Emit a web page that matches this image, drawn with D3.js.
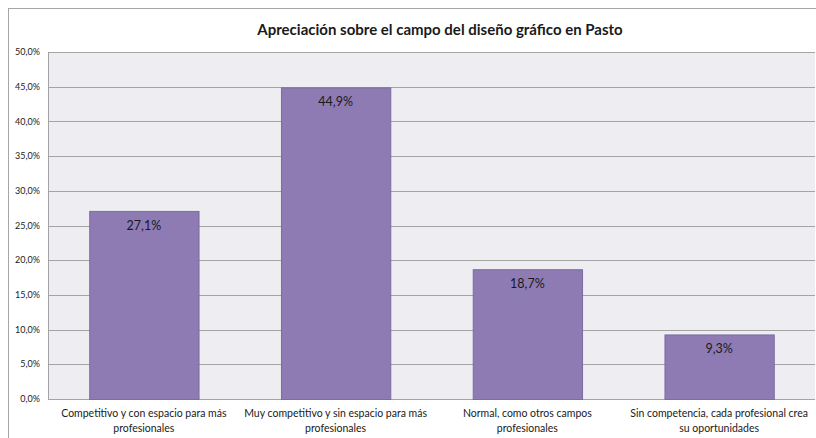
<!DOCTYPE html>
<html lang="es">
<head>
<meta charset="UTF-8">
<title>Apreciación sobre el campo del diseño gráfico en Pasto</title>
<script src="https://d3js.org/d3.v7.min.js"></script>
<style>
    body { margin: 0; background: #fff; font-family: Lato, "Open Sans", sans-serif; }
    svg text { fill: #1a1a1a; }
</style>
</head>
<body>
<div id="chart"></div>
<script>
    const categories = [
        ["Competitivo y con espacio para más", "profesionales"],
        ["Muy competitivo y sin espacio para más", "profesionales"],
        ["Normal, como otros campos", "profesionales"],
        ["Sin competencia, cada profesional crea", "su oportunidades"]
    ];
    const values = [27.1, 44.9, 18.7, 9.3];
    const yTicks = [0, 5, 10, 15, 20, 25, 30, 35, 40, 45, 50];
    const title = "Apreciación sobre el campo del diseño gráfico en Pasto";

    const W = 816, H = 438;
    const margin = { top: 52, right: 1, bottom: 39, left: 48 };
    const width = W - margin.left - margin.right;
    const height = H - margin.top - margin.bottom;

    const svg = d3.select("#chart").append("svg")
        .attr("width", W)
        .attr("height", H);

    // chart frame
    svg.append("rect")
        .attr("x", 8.5).attr("y", 8.5)
        .attr("width", W).attr("height", H)
        .attr("fill", "#fff")
        .attr("stroke", "#a6a6a6");

    svg.append("text")
        .attr("x", 440).attr("y", 35)
        .attr("text-anchor", "middle")
        .style("font-size", "15px")
        .style("font-weight", "bold")
        .text(title);

    const g = svg.append("g")
        .attr("transform", `translate(${margin.left},${margin.top})`);

    const x = d3.scaleBand()
        .domain(d3.range(categories.length))
        .range([0, width])
        .paddingInner(0.43)
        .paddingOuter(0.215);
    const y = d3.scaleLinear().domain([0, 50]).range([height, 0]);

    g.append("rect")
        .attr("width", width).attr("height", height)
        .attr("fill", "#eeedf2");

    g.selectAll(".grid")
        .data(yTicks)
        .enter().append("line")
        .attr("x1", 0).attr("x2", width)
        .attr("y1", d => Math.round(y(d)) + 0.5)
        .attr("y2", d => Math.round(y(d)) + 0.5)
        .attr("stroke", "#a3a3a3");

    g.append("line")
        .attr("x1", 0.5).attr("x2", 0.5)
        .attr("y1", 0).attr("y2", height)
        .attr("stroke", "#a3a3a3");

    const fmt = v => d3.format(".1f")(v).replace(".", ",") + "%";

    g.selectAll(".ytick")
        .data(yTicks)
        .enter().append("text")
        .attr("x", -8)
        .attr("y", d => y(d))
        .attr("dy", "0.35em")
        .attr("text-anchor", "end")
        .style("font-size", "9px")
        .text(d => fmt(d));

    g.selectAll(".bar")
        .data(values)
        .enter().append("rect")
        .attr("x", (d, i) => x(i) + 0.5)
        .attr("y", d => y(d) + 0.5)
        .attr("width", x.bandwidth())
        .attr("height", d => height - y(d))
        .attr("fill", "#8e7bb4")
        .attr("stroke", "#7d6ba3");

    g.selectAll(".label")
        .data(values)
        .enter().append("text")
        .attr("x", (d, i) => x(i) + x.bandwidth() / 2)
        .attr("y", d => y(d) + 19)
        .attr("text-anchor", "middle")
        .style("font-size", "12.5px")
        .text(d => fmt(d));

    const cat = g.selectAll(".cat")
        .data(categories)
        .enter().append("text")
        .attr("text-anchor", "middle")
        .style("font-size", "10.5px");
    cat.selectAll("tspan")
        .data((d, i) => d.map(s => ({ s, i })))
        .enter().append("tspan")
        .attr("x", d => x(d.i) + x.bandwidth() / 2)
        .attr("y", (d, j) => height + 18 + j * 15)
        .text(d => d.s);
</script>
</body>
</html>
